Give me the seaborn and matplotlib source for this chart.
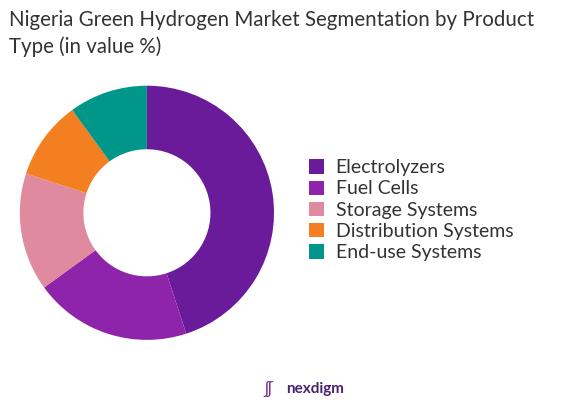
import matplotlib
matplotlib.use("Agg")
import matplotlib.pyplot as plt
import seaborn as sns

sns.set_theme(style="white")
plt.rcParams['font.family'] = ['Lato', 'DejaVu Sans']

categories = ["Electrolyzers", "Fuel Cells", "Storage Systems", "Distribution Systems", "End-use Systems"]
values = [45, 20, 15, 10, 10]
colors = ["#6a1b9a", "#8e24aa", "#e08aa0", "#f47f20", "#00968a"]

fig = plt.figure(figsize=(5.83, 4.12), dpi=100)
ax = fig.add_axes([0.034, 0.175, 0.436, 0.617])
wedges, _ = ax.pie(values, colors=colors, startangle=90, counterclock=False,
                   wedgeprops=dict(width=0.5, edgecolor="none"))
ax.set_xlim(-1, 1)
ax.set_ylim(-1, 1)
ax.set_aspect("equal")
ax.legend(wedges, categories, loc="center left", bbox_to_anchor=(1.07, 0.51),
          frameon=False, fontsize=14, handlelength=0.75, handleheight=0.75,
          labelspacing=0.22, handletextpad=0.6, labelcolor="#333333")
fig.text(0.015, 0.975, "Nigeria Green Hydrogen Market Segmentation by Product\nType (in value %)",
         ha="left", va="top", fontsize=14.8, color="#333333", linespacing=1.35)
fig.text(0.49, 0.055, "nexdigm", ha="left", va="center", fontsize=11, color="#4a2270", weight="bold")
fig.text(0.46, 0.055, "ʃʃ", ha="center", va="center", fontsize=12, color="#7b2f8f")
fig.savefig("out.png", dpi=100, facecolor="white")
